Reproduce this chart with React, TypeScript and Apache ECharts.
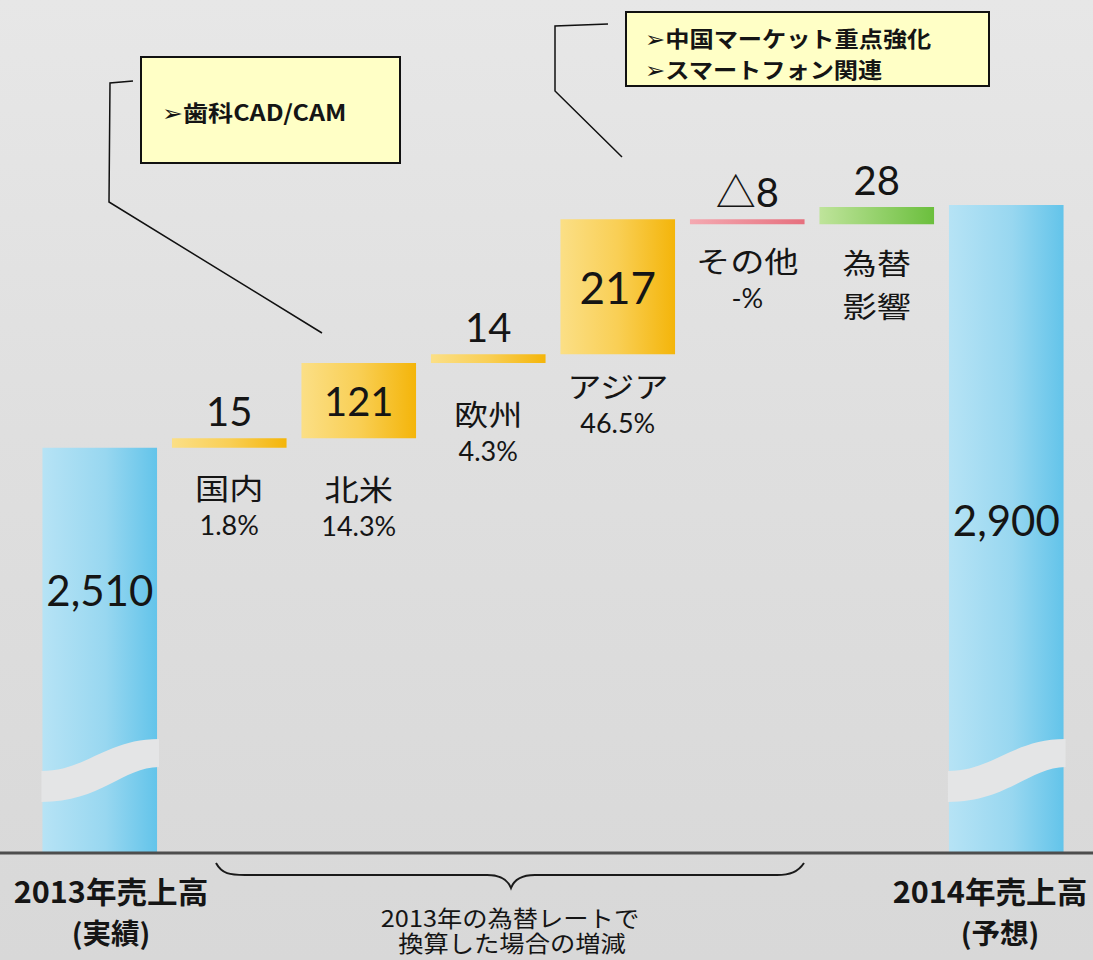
import React, { useEffect, useRef } from 'react';
import * as echarts from 'echarts';

// ---------- data ----------
const categories = ['2013年売上高', '国内', '北米', '欧州', 'アジア', 'その他', '為替影響', '2014年売上高'];
const startTotal = 2510;
const endTotal = 2900;
const deltas = [15, 121, 14, 217, -8, 28];
const valueLabels = ['2,510', '15', '121', '14', '217', '△8', '28', '2,900'];
const nameLabels = ['', '国内', '北米', '欧州', 'アジア', 'その他', '為替', ''];
const subLabels = ['', '1.8%', '14.3%', '4.3%', '46.5%', '-%', '影響', ''];
const barKinds = ['total', 'region', 'region', 'region', 'region', 'other', 'fx', 'total'];
const startLabel = ['2013年売上高', '(実績)'];
const endLabel = ['2014年売上高', '(予想)'];
const braceLines = ['2013年の為替レートで', '換算した場合の増減'];
const calloutA = ['➢歯科CAD/CAM'];
const calloutB = ['➢中国マーケット重点強化', '➢スマートフォン関連'];

const AXIS_MIN = 1860;
const AXIS_MAX = 3200;

// ---------- layout (pixels) ----------
const nameGap = [0, 40, 50, 50, 31, 36, 38, 0];
const totalLabelOffset = [142, 0, 0, 0, 0, 0, 0, 315];

const CJK = "'Noto Sans CJK JP', 'DejaVu Sans', sans-serif";
const NUM = "Lato, 'Noto Sans CJK JP', sans-serif";
const INK = '#151515';

function buildRows() {
  const rows: number[][] = [];
  rows.push([0, AXIS_MIN, startTotal]);
  let acc = startTotal;
  deltas.forEach((d, k) => {
    const next = acc + d;
    rows.push([k + 1, Math.min(acc, next), Math.max(acc, next)]);
    acc = next;
  });
  rows.push([categories.length - 1, AXIS_MIN, endTotal]);
  return rows;
}

const grad = (stops: [number, string][]) =>
  new echarts.graphic.LinearGradient(0, 0, 1, 0, stops.map(([offset, color]) => ({ offset, color })));

const fills: Record<string, any> = {
  total: grad([[0, '#b6e3f5'], [0.55, '#98d7f0'], [1, '#63c4ea']]),
  region: grad([[0, '#fbdf86'], [0.5, '#f9cf55'], [1, '#f4b50a']]),
  other: grad([[0, '#f4a9b1'], [1, '#e6707e']]),
  fx: grad([[0, '#bfe49b'], [1, '#6bbf3d']]),
};

const textEl = (text: string, x: number, y: number, size: number, family: string, opts: any = {}) => ({
  type: 'text',
  x,
  y,
  scaleX: opts.scaleX ?? 1,
  z2: 20,
  style: {
    text,
    x: 0,
    y: 0,
    fill: INK,
    fontSize: size,
    fontFamily: family,
    fontWeight: opts.weight ?? 'normal',
    align: opts.align ?? 'center',
    textAlign: opts.align ?? 'center',
    verticalAlign: 'middle',
    textVerticalAlign: 'middle',
  },
});

const renderItem = (params: any, api: any) => {
  const i = api.value(0);
  const lo = api.value(1);
  const hi = api.value(2);
  const cs = params.coordSys;
  const bottom = cs.y + cs.height;
  const pTop = api.coord([i, hi]);
  const pBot = api.coord([i, lo]);
  const bw = api.size([1, 0])[0] * 0.885;
  const cx = pTop[0];
  const x = cx - bw / 2;
  const yTop = pTop[1];
  const yBot = Math.min(pBot[1], bottom);
  const kind = barKinds[i];
  const children: any[] = [
    { type: 'rect', shape: { x, y: yTop, width: bw, height: Math.max(yBot - yTop, 1) }, style: { fill: fills[kind] } },
  ];
  if (kind === 'total') {
    const L = x - 1;
    const R = x + bw + 2;
    const w = R - L;
    const d =
      `M${L},${bottom - 81} C${L + w * 0.38},${bottom - 81} ${L + w * 0.55},${bottom - 113} ${R},${bottom - 113} ` +
      `L${R},${bottom - 85} C${L + w * 0.7},${bottom - 85} ${L + w * 0.5},${bottom - 50} ${L},${bottom - 50} Z`;
    children.push({ type: 'path', shape: { pathData: d }, style: { fill: '#e4e5e6' } });
    children.push(textEl(valueLabels[i], cx, yTop + totalLabelOffset[i], 42, NUM));
  } else {
    const h = yBot - yTop;
    const vy = h > 50 ? (yTop + yBot) / 2 : yTop - 27;
    children.push(textEl(valueLabels[i], cx, vy, h > 100 ? 44 : 40, NUM));
    const ny = yBot + nameGap[i];
    children.push(textEl(nameLabels[i], cx, ny, 29, CJK, { scaleX: 1.18 }));
    if (kind === 'fx') {
      children.push(textEl(subLabels[i], cx, ny + 43, 29, CJK, { scaleX: 1.18 }));
    } else {
      children.push(textEl(subLabels[i], cx, ny + 37, 27, NUM));
    }
  }
  return { type: 'group', children };
};

let braceRegistered = false;
function registerBrace() {
  if (braceRegistered) return;
  const d =
    'M216 863 C222 874 230 875 245 875 L487 875 C500 875 508 880 511 888 C514 880 522 875 535 875 L777 875 C790 875 798 872 804 863';
  echarts.graphic.registerShape('brace', echarts.graphic.extendPath(d, {}) as any);
  braceRegistered = true;
}

const gText = (text: string, x: number, y: number, size: number, opts: any = {}) => ({
  type: 'text',
  x,
  y,
  scaleX: opts.scaleX ?? 1,
  z: 30,
  style: {
    text,
    x: 0,
    y: 0,
    fill: INK,
    fontSize: size,
    fontFamily: opts.family ?? CJK,
    fontWeight: opts.weight ?? 'normal',
    align: opts.align ?? 'center',
    textAlign: opts.align ?? 'center',
    verticalAlign: 'middle',
    textVerticalAlign: 'middle',
  },
});

export default function App() {
  const ref = useRef<HTMLDivElement>(null);
  useEffect(() => {
    if (!ref.current) return;
    registerBrace();
    const chart = echarts.init(ref.current, undefined, { renderer: 'svg' });
    const rows = buildRows();
    chart.setOption({
      animation: false,
      backgroundColor: new echarts.graphic.LinearGradient(0, 0, 0, 1, [
        { offset: 0, color: '#e7e7e7' },
        { offset: 0.45, color: '#dfdfdf' },
        { offset: 1, color: '#d8d8d8' },
      ]),
      grid: { left: 35, right: 22, top: 18.4, bottom: 108 },
      xAxis: {
        type: 'category',
        data: categories,
        axisLine: { show: false },
        axisTick: { show: false },
        axisLabel: { show: false },
        splitLine: { show: false },
      },
      yAxis: {
        type: 'value',
        min: AXIS_MIN,
        max: AXIS_MAX,
        show: false,
        splitLine: { show: false },
      },
      series: [
        {
          type: 'custom',
          renderItem,
          clip: false,
          data: rows,
          encode: { x: 0, y: [1, 2] },
        },
      ],
      graphic: [
        { type: 'line', z: 25, shape: { x1: 0, y1: 853, x2: 1093, y2: 853 }, style: { stroke: '#4d4d4d', lineWidth: 3 } },
        { type: 'brace', z: 25, x: 0, y: 0, style: { fill: 'none', stroke: '#1a1a1a', lineWidth: 2 } },
        gText(braceLines[0], 510, 917, 23, { scaleX: 1.1 }),
        gText(braceLines[1], 512, 942, 23, { scaleX: 1.1 }),
        gText(startLabel[0], 111, 890, 30, { weight: 'bold', scaleX: 1.02 }),
        gText(startLabel[1], 111, 932, 28, { weight: 'bold', scaleX: 1.02 }),
        gText(endLabel[0], 990, 890, 30, { weight: 'bold', scaleX: 1.02 }),
        gText(endLabel[1], 1000, 932, 28, { weight: 'bold', scaleX: 1.02 }),
        // callout A
        { type: 'polyline', z: 25, shape: { points: [[133, 81], [110, 83], [109, 202], [322, 333]] }, style: { stroke: '#111', lineWidth: 1.5, fill: 'none' } },
        { type: 'rect', z: 26, shape: { x: 141, y: 57, width: 259, height: 106 }, style: { fill: '#ffffc6', stroke: '#111', lineWidth: 2 } },
        gText(calloutA[0], 162, 112, 22, { weight: 'bold', align: 'left', scaleX: 1.14 }),
        // callout B
        { type: 'polyline', z: 25, shape: { points: [[608, 24], [555, 26], [555, 91], [622, 157]] }, style: { stroke: '#111', lineWidth: 1.5, fill: 'none' } },
        { type: 'rect', z: 26, shape: { x: 626, y: 12, width: 363, height: 74 }, style: { fill: '#ffffc6', stroke: '#111', lineWidth: 2 } },
        gText(calloutB[0], 645, 37, 22, { weight: 'bold', align: 'left', scaleX: 1.1 }),
        gText(calloutB[1], 645, 68, 22, { weight: 'bold', align: 'left', scaleX: 1.1 }),
      ],
    });
    return () => chart.dispose();
  }, []);
  return <div ref={ref} style={{ position: 'absolute', left: 0, top: 0, width: 1093, height: 960 }} />;
}
